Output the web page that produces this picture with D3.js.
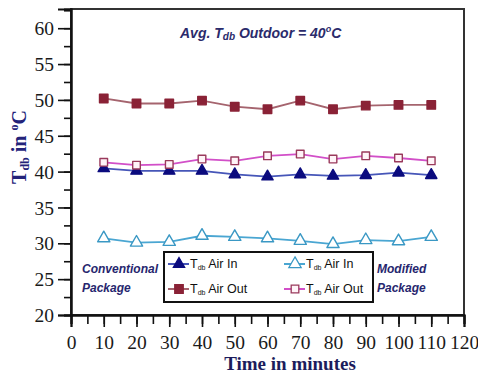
<!DOCTYPE html>
<html>
<head>
<meta charset="utf-8">
<script src="https://cdn.jsdelivr.net/npm/d3@7"></script>
<style>
  body { margin: 0; background: #fff; }
  svg { display: block; }
</style>
</head>
<body>
<div class="grafico"></div>
<script>
// tempo em minutos
var minutos = [10, 20, 30, 40, 50, 60, 70, 80, 90, 100, 110];

// Conventional Package
var convAirIn  = [40.45, 40.1, 40.1, 40.1, 39.6, 39.3, 39.6, 39.4, 39.5, 39.85, 39.5];
var convAirOut = [50.2, 49.5, 49.5, 49.9, 49.05, 48.7, 49.9, 48.7, 49.2, 49.3, 49.3];
// Modified Package
var modAirIn  = [30.7, 30.1, 30.2, 31.05, 30.9, 30.7, 30.35, 29.9, 30.45, 30.3, 30.9];
var modAirOut = [41.3, 40.9, 41.0, 41.75, 41.5, 42.2, 42.45, 41.75, 42.2, 41.9, 41.5];

var xTicks = [0, 10, 20, 30, 40, 50, 60, 70, 80, 90, 100, 110, 120];
var yTicks = [20, 25, 30, 35, 40, 45, 50, 55, 60];

// dimensoes (nomes sem conflito com window.top)
var width = 478, height = 374;
var mEsq = 71, mDir = 464, mTopo = 9, mBase = 315;

var svg = d3.select(".grafico").append("svg")
  .attr("width", width).attr("height", height);

var x = d3.scaleLinear().domain([0, 120]).range([mEsq, mDir]);
var y = d3.scaleLinear().domain([20, 62.68]).range([mBase, mTopo]);

// moldura
svg.append("rect")
  .attr("x", mEsq).attr("y", mTopo)
  .attr("width", mDir - mEsq).attr("height", mBase - mTopo)
  .attr("fill", "none").attr("stroke", "#333").attr("stroke-width", 2);

// eixo y (ticks menores e maiores)
var yMinor = svg.append("g").attr("transform", "translate(" + mEsq + ",0)")
  .call(d3.axisLeft(y).tickValues(d3.range(20, 62.6, 2.5)).tickSize(7).tickFormat(""));
var yAxis = svg.append("g").attr("transform", "translate(" + mEsq + ",0)")
  .call(d3.axisLeft(y).tickValues(yTicks).tickSize(13).tickPadding(4));

// eixo x
var xMinor = svg.append("g").attr("transform", "translate(0," + mBase + ")")
  .call(d3.axisBottom(x).tickValues(d3.range(0, 121, 5)).tickSize(9).tickFormat(""));
var xAxis = svg.append("g").attr("transform", "translate(0," + mBase + ")")
  .call(d3.axisBottom(x).tickValues(xTicks).tickSize(12).tickPadding(8));

[yMinor, yAxis, xMinor, xAxis].forEach(function(g) {
  g.select(".domain").attr("stroke", "#111").attr("stroke-width", 2);
  g.selectAll(".tick line").attr("stroke", "#111").attr("stroke-width", 1.6);
  g.selectAll(".tick text")
    .attr("fill", "#1a1a1a")
    .style("font-family", "'Liberation Serif', 'Times New Roman', serif")
    .style("font-size", "19.5px");
});
yAxis.selectAll(".tick text").attr("dy", "0.34em");

// titulos dos eixos
svg.append("text")
  .attr("transform", "translate(26,147) rotate(-90)")
  .attr("text-anchor", "middle")
  .attr("fill", "#23237a")
  .style("font-family", "'Liberation Serif', serif")
  .style("font-weight", "bold")
  .style("font-size", "20px")
  .call(function(t) {
    t.append("tspan").text("T");
    t.append("tspan").attr("dy", 3).style("font-size", "12px").text("db");
    t.append("tspan").attr("dy", -3).text(" in ");
    t.append("tspan").attr("dy", -8).style("font-size", "12px").text("o");
    t.append("tspan").attr("dy", 8).text("C");
  });

svg.append("text")
  .attr("x", 290).attr("y", 370)
  .attr("text-anchor", "middle")
  .attr("fill", "#1c1c5c")
  .style("font-family", "'Liberation Serif', serif")
  .style("font-weight", "bold")
  .style("font-size", "19px")
  .text("Time in minutes");

// anotacao
svg.append("text")
  .attr("x", 180).attr("y", 38)
  .attr("fill", "#2b2b6b")
  .style("font-family", "'Liberation Sans', Arial, sans-serif")
  .style("font-weight", "bold")
  .style("font-style", "italic")
  .style("font-size", "14px")
  .call(function(t) {
    t.append("tspan").text("Avg. T");
    t.append("tspan").attr("dy", 2).style("font-size", "10px").text("db");
    t.append("tspan").attr("dy", -2).text(" Outdoor = 40");
    t.append("tspan").attr("dy", -6).style("font-size", "9px").text("o");
    t.append("tspan").attr("dy", 6).text("C");
  });

// series
var series = [
  { nome: "conv_in", valores: convAirIn, linha: "#4656b8", simbolo: d3.symbolTriangle, tam: 55, fill: "#0b0b7e", stroke: "#0b0b7e" },
  { nome: "conv_out", valores: convAirOut, linha: "#a5646e", simbolo: d3.symbolSquare, tam: 72, fill: "#8a2236", stroke: "#8a2236" },
  { nome: "mod_in", valores: modAirIn, linha: "#4aa6d2", simbolo: d3.symbolTriangle, tam: 65, fill: "#ffffff", stroke: "#3a98c4" },
  { nome: "mod_out", valores: modAirOut, linha: "#d24fc8", simbolo: d3.symbolSquare, tam: 58, fill: "#fff4f8", stroke: "#9a3a5c" }
];

var linha = d3.line()
  .x(function(d, i) { return x(minutos[i]); })
  .y(function(d) { return y(d); });

series.forEach(function(s) {
  svg.append("path")
    .datum(s.valores)
    .attr("d", linha)
    .attr("fill", "none")
    .attr("stroke", s.linha)
    .attr("stroke-width", 1.8);

  svg.selectAll(".p-" + s.nome)
    .data(s.valores)
    .enter()
    .append("path")
    .attr("class", "p-" + s.nome)
    .attr("d", d3.symbol().type(s.simbolo).size(s.tam))
    .attr("transform", function(d, i) { return "translate(" + x(minutos[i]) + "," + y(d) + ")"; })
    .attr("fill", s.fill)
    .attr("stroke", s.stroke)
    .attr("stroke-width", 1.4)
    .attr("stroke-linejoin", "round");
});

// legenda
svg.append("rect")
  .attr("x", 164).attr("y", 252)
  .attr("width", 209).attr("height", 50)
  .attr("fill", "#fff").attr("stroke", "#111").attr("stroke-width", 2);

var legenda = [
  { s: series[0], lx: 168, ly: 264, texto: "Air In" },
  { s: series[1], lx: 168, ly: 289, texto: "Air Out" },
  { s: series[2], lx: 284, ly: 264, texto: "Air In" },
  { s: series[3], lx: 284, ly: 289, texto: "Air Out" }
];

legenda.forEach(function(l) {
  svg.append("line")
    .attr("x1", l.lx).attr("x2", l.lx + 21)
    .attr("y1", l.ly).attr("y2", l.ly)
    .attr("stroke", l.s.linha).attr("stroke-width", 2);
  svg.append("path")
    .attr("d", d3.symbol().type(l.s.simbolo).size(l.s.tam))
    .attr("transform", "translate(" + (l.lx + 11) + "," + l.ly + ")")
    .attr("fill", l.s.fill).attr("stroke", l.s.stroke).attr("stroke-width", 1.3);
  svg.append("text")
    .attr("x", l.lx + 22).attr("y", l.ly + 4)
    .attr("fill", "#111")
    .style("font-family", "'Liberation Sans Narrow', 'Liberation Sans', Arial, sans-serif")
    .style("font-size", "12.5px")
    .call(function(t) {
      t.append("tspan").text("T");
      t.append("tspan").attr("dy", 2).style("font-size", "7px").text("db");
      t.append("tspan").attr("dy", -2).text(" " + l.texto);
    });
});

// rotulos dos pacotes
var rotulos = [
  { x: 82, y: 273, t: "Conventional" },
  { x: 82, y: 292, t: "Package" },
  { x: 377, y: 273, t: "Modified" },
  { x: 377, y: 292, t: "Package" }
];
svg.selectAll(".rotulo")
  .data(rotulos)
  .enter()
  .append("text")
  .attr("class", "rotulo")
  .attr("x", function(d) { return d.x; })
  .attr("y", function(d) { return d.y; })
  .attr("fill", "#26266e")
  .style("font-family", "'Liberation Sans', Arial, sans-serif")
  .style("font-weight", "bold")
  .style("font-style", "italic")
  .style("font-size", "12px")
  .text(function(d) { return d.t; });
</script>
</body>
</html>
